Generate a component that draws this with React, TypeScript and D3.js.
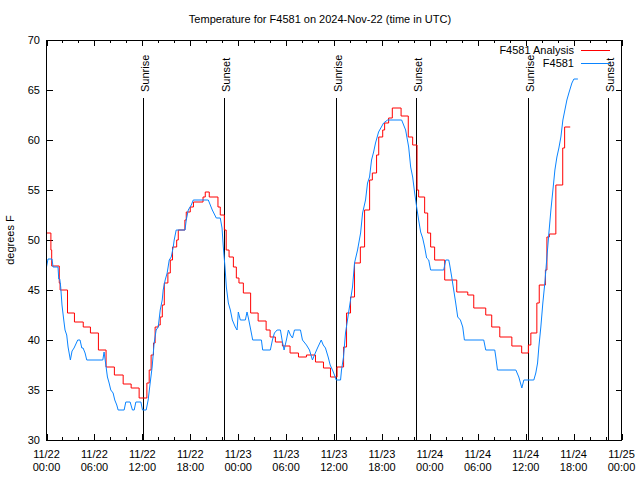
import React from "react";
import * as d3 from "d3";

// Hours after 2024-11-22 00:00 UTC
const analysisHours = [0, 0.55, 0.65, 1.6, 1.7, 2.63, 3.5, 4.6, 5.5, 6.5, 7.46, 8.5, 9.6, 10.6, 11.6, 12.57, 12.86, 13.1, 13.4, 13.6, 14.0, 14.24, 14.5, 14.75, 15.2, 15.5, 15.78, 16.3, 16.5, 17.33, 17.5, 18.0, 18.4, 19.6, 19.88, 20.38, 21.47, 21.76, 22.27, 22.5, 22.86, 23.4, 23.77, 24.1, 24.65, 25.56, 26.5, 27.5, 28.0, 28.66, 29.54, 30.5, 31.55, 32.55, 33.68, 34.68, 35.56, 36.38, 37.2, 37.57, 38.07, 38.57, 39.3, 39.83, 40.46, 40.8, 41.33, 41.6, 42.1, 42.34, 42.84, 43.3, 44.4, 45.3, 45.85, 46.4, 46.6, 47.35, 47.73, 48.1, 48.6, 49.86, 51.37, 52.75, 53.5, 55.0, 55.75, 56.76, 58.27, 59.5, 60.34, 60.65, 61.4, 61.7, 62.47, 62.66, 62.97, 63.78, 64.64, 64.88, 65.58];
const analysisTemps = [50.7, 49.0, 47.4, 45.7, 45.0, 42.7, 41.8, 41.3, 40.7, 39.0, 37.3, 36.5, 35.6, 35.2, 34.2, 35.7, 37.0, 38.5, 39.7, 41.3, 41.5, 42.3, 43.5, 45.7, 46.7, 48.0, 49.3, 50.0, 51.0, 52.0, 52.8, 53.3, 53.8, 54.3, 54.8, 54.3, 53.3, 52.5, 51.0, 49.0, 48.3, 47.3, 46.2, 45.7, 44.7, 42.7, 41.9, 41.0, 40.3, 39.8, 39.4, 38.7, 38.3, 38.5, 37.8, 37.2, 36.3, 37.3, 39.3, 42.7, 44.3, 47.7, 49.3, 53.0, 56.0, 56.7, 58.5, 60.3, 61.0, 61.7, 62.2, 63.2, 62.4, 60.3, 59.5, 55.0, 54.3, 52.7, 50.7, 49.3, 48.0, 46.0, 44.8, 44.5, 43.2, 42.5, 41.3, 40.3, 39.4, 38.7, 39.5, 40.7, 43.7, 45.5, 47.0, 50.3, 50.6, 55.5, 59.2, 61.3, 61.3];

const obsHours = [0, 0.19, 0.69, 0.82, 1.44, 1.53, 1.66, 1.78, 1.94, 2.16, 2.32, 2.53, 2.7, 2.99, 3.2, 3.45, 3.91, 4.2, 4.42, 4.58, 4.83, 5.04, 7.05, 7.21, 7.43, 7.63, 7.84, 8.05, 8.34, 8.55, 8.8, 8.97, 9.72, 9.93, 10.47, 10.76, 10.98, 11.19, 11.82, 12.02, 12.48, 12.73, 12.98, 13.23, 13.48, 13.73, 13.99, 14.24, 14.49, 14.61, 14.86, 15.11, 15.37, 15.62, 15.87, 15.99, 16.24, 17.34, 17.5, 17.75, 18.13, 18.38, 20.26, 20.51, 20.76, 21.26, 21.76, 21.98, 22.14, 22.35, 22.52, 22.77, 23.02, 23.27, 23.64, 23.86, 24.02, 24.27, 24.9, 25.11, 25.28, 25.53, 25.82, 26.91, 27.07, 28.03, 28.29, 28.54, 28.88, 29.29, 29.5, 29.75, 30.04, 30.29, 30.54, 30.8, 31.05, 31.8, 32.05, 32.55, 32.93, 33.3, 33.55, 33.93, 34.4, 34.65, 34.93, 35.27, 35.52, 35.81, 36.06, 36.28, 36.82, 36.94, 37.19, 37.44, 37.82, 38.07, 38.32, 38.57, 38.95, 39.33, 39.58, 39.95, 40.2, 40.45, 40.7, 40.96, 41.2, 41.58, 42.21, 42.71, 44.47, 44.72, 44.97, 45.35, 45.6, 45.85, 46.1, 46.35, 46.6, 46.85, 47.1, 47.35, 47.6, 47.86, 48.1, 49.74, 49.99, 50.37, 50.49, 50.74, 50.99, 51.24, 51.49, 51.83, 52.12, 52.33, 54.75, 55.0, 56.13, 56.26, 56.47, 58.77, 59.14, 59.52, 59.77, 61.02, 61.27, 61.49, 61.65, 61.9, 62.15, 62.4, 62.66, 62.91, 63.16, 63.5, 63.66, 63.91, 64.16, 64.41, 64.66, 64.91, 65.16, 65.41, 65.79, 66.04, 66.54];
const obsTemps = [47.3, 48.1, 48.1, 47.3, 47.3, 46.1, 46.1, 45.3, 43.5, 42.0, 41.0, 40.5, 39.3, 38.0, 38.9, 39.2, 40.0, 40.0, 39.2, 39.2, 38.7, 38.0, 38.0, 38.8, 37.5, 36.3, 35.7, 35.0, 34.7, 34.0, 33.5, 33.0, 33.0, 33.8, 33.8, 33.0, 33.0, 33.8, 33.8, 33.0, 33.0, 34.0, 35.7, 37.3, 39.7, 41.0, 41.3, 43.0, 44.0, 45.0, 46.0, 46.7, 48.0, 48.3, 49.3, 50.0, 51.0, 51.0, 52.0, 53.0, 53.5, 54.0, 54.0, 53.5, 53.0, 52.2, 52.2, 51.2, 49.3, 47.3, 45.3, 43.7, 43.0, 42.0, 41.3, 41.0, 42.8, 42.0, 42.0, 42.8, 42.2, 41.2, 40.0, 40.0, 39.0, 39.0, 40.0, 40.7, 41.0, 41.0, 40.0, 39.0, 40.0, 41.0, 40.5, 40.2, 41.0, 41.0, 40.0, 39.5, 39.0, 38.0, 38.5, 39.2, 40.0, 39.5, 39.2, 38.3, 37.5, 37.0, 36.5, 36.0, 36.0, 37.0, 38.3, 40.7, 42.7, 44.0, 45.3, 47.7, 49.0, 50.7, 52.7, 54.0, 55.7, 56.3, 58.0, 58.8, 59.7, 60.8, 61.7, 62.0, 62.0, 61.5, 61.0, 59.3, 57.3, 56.3, 54.7, 53.3, 52.0, 50.8, 50.2, 49.3, 48.2, 48.0, 47.0, 47.0, 48.0, 48.0, 47.5, 46.3, 45.0, 43.7, 42.3, 42.0, 41.3, 40.0, 40.0, 39.0, 39.0, 38.3, 37.0, 37.0, 36.3, 35.2, 36.0, 36.0, 36.7, 37.7, 39.3, 41.3, 43.7, 45.7, 48.3, 50.7, 53.0, 55.7, 57.0, 58.3, 59.2, 60.3, 62.0, 63.0, 64.0, 64.7, 65.7, 66.1, 66.1];

const sunEventTimes = ["2024-11-22T12:08:00Z", "2024-11-22T22:11:00Z", "2024-11-23T12:14:00Z", "2024-11-23T22:16:00Z", "2024-11-24T12:19:00Z", "2024-11-24T22:21:00Z"];
const sunEventLabels = ["Sunrise", "Sunset", "Sunrise", "Sunset", "Sunrise", "Sunset"];

const yTicks = [30, 35, 40, 45, 50, 55, 60, 65, 70];
const seriesNames = ["F4581 Analysis", "F4581"];
const seriesColors = ["#ff0000", "#0a84ff"];
const titleText = "Temperature for F4581 on 2024-Nov-22 (time in UTC)";
const yLabel = "degrees F";

const BASE = Date.UTC(2024, 10, 22);
const START = new Date(BASE);
const END = new Date(Date.UTC(2024, 10, 25));

const FONT = "'Liberation Sans', Arial, sans-serif";

export default function App() {
  const left = 46.5, right = 621.5, top = 40, bottom = 440;
  const x = d3.scaleUtc().domain([START, END]).range([left, right]);
  const y = d3.scaleLinear().domain([30, 70]).range([bottom, top]);
  const toDate = (h: number) => new Date(BASE + h * 3600000);

  const analysis = analysisHours.map((h, i) => [toDate(h), analysisTemps[i]] as [Date, number]);
  const obs = obsHours.map((h, i) => [toDate(h), obsTemps[i]] as [Date, number]);

  const stepLine = d3.line<[Date, number]>().x(d => x(d[0])).y(d => y(d[1])).curve(d3.curveStepAfter);
  const linLine = d3.line<[Date, number]>().x(d => x(d[0])).y(d => y(d[1]));

  const xTicks = d3.utcHour.every(2)!.range(START, new Date(END.getTime() + 1));
  const fmtDate = d3.utcFormat("%m/%d");
  const fmtTime = d3.utcFormat("%H:%M");

  const sun = sunEventTimes.map((t, i) => ({ d: new Date(t), label: sunEventLabels[i] }));

  return (
    <svg width={640} height={480} style={{ position: "absolute", left: 0, top: 0, background: "#fff" }} fontFamily={FONT} fontSize={11}>
      <rect x={0} y={0} width={640} height={480} fill="#fff" />
      <text x={320} y={23} textAnchor="middle" fill="#000">{titleText}</text>
      <text transform={`translate(14,${(top + bottom) / 2}) rotate(-90)`} textAnchor="middle" fill="#000">{yLabel}</text>

      {yTicks.map(t => (
        <g key={"y" + t}>
          <line x1={left} x2={left + 6} y1={Math.round(y(t)) + 0.5} y2={Math.round(y(t)) + 0.5} stroke="#000" shapeRendering="crispEdges" />
          <line x1={right - 6} x2={right} y1={Math.round(y(t)) + 0.5} y2={Math.round(y(t)) + 0.5} stroke="#000" shapeRendering="crispEdges" />
          <text x={40} y={y(t) + 4} textAnchor="end" fill="#000">{t}</text>
        </g>
      ))}

      {xTicks.map(d => {
        const major = d.getUTCHours() % 6 === 0;
        const len = major ? 6 : 3;
        const px = Math.round(x(d)) + 0.5;
        return (
          <g key={"x" + d.getTime()}>
            <line x1={px} x2={px} y1={bottom} y2={bottom - len} stroke="#000" shapeRendering="crispEdges" />
            <line x1={px} x2={px} y1={top} y2={top + len} stroke="#000" shapeRendering="crispEdges" />
            {major && (
              <>
                <text x={x(d)} y={458} textAnchor="middle" fill="#000">{fmtDate(d)}</text>
                <text x={x(d)} y={471} textAnchor="middle" fill="#000">{fmtTime(d)}</text>
              </>
            )}
          </g>
        );
      })}

      {sun.map((s, i) => {
        const px = Math.round(x(s.d)) + 0.5;
        return (
          <g key={"s" + i}>
            <line x1={px} x2={px} y1={98} y2={bottom} stroke="#000" shapeRendering="crispEdges" />
            <text transform={`translate(${px + 5},92) rotate(-90)`} textAnchor="start" fill="#000">{s.label}</text>
          </g>
        );
      })}

      <path d={stepLine(analysis) || ""} fill="none" stroke={seriesColors[0]} strokeWidth={1} />
      <path d={linLine(obs) || ""} fill="none" stroke={seriesColors[1]} strokeWidth={1} />

      {seriesNames.map((n, i) => (
        <g key={"l" + i}>
          <text x={574} y={54 + i * 13} textAnchor="end" fill="#000">{n}</text>
          <line x1={581} x2={610} y1={50.5 + i * 13} y2={50.5 + i * 13} stroke={seriesColors[i]} strokeWidth={1} shapeRendering="crispEdges" />
        </g>
      ))}

      <rect x={left} y={top + 0.5} width={right - left} height={bottom - top} fill="none" stroke="#000" shapeRendering="crispEdges" />
    </svg>
  );
}
